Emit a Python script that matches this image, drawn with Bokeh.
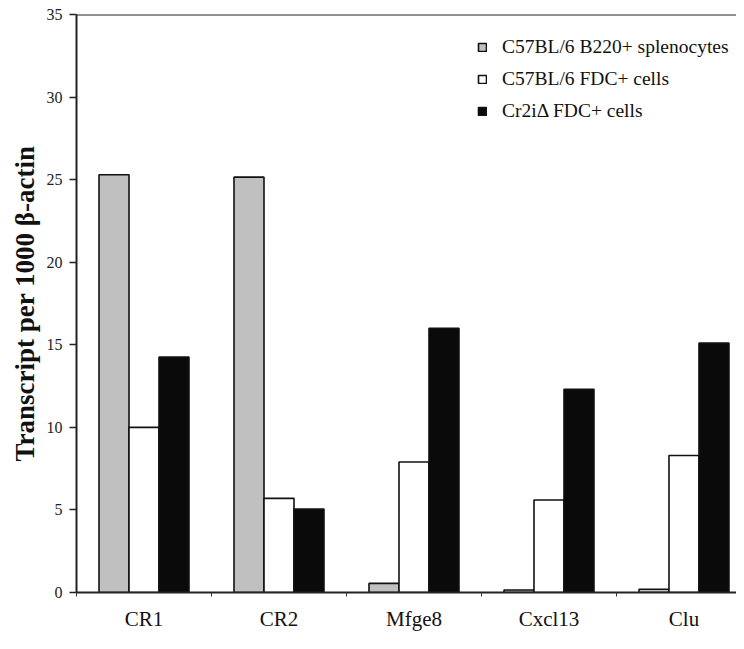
from bokeh.plotting import figure
from bokeh.models import (ColumnDataSource, Range1d, FixedTicker, Span, Legend, LegendItem)
from bokeh.embed import file_html
from bokeh.resources import INLINE
import numpy as np

categories = ["CR1", "CR2", "Mfge8", "Cxcl13", "Clu"]
series_names = ["C57BL/6 B220+ splenocytes", "C57BL/6 FDC+ cells", "Cr2iΔ FDC+ cells"]
b220_splenocytes = [25.3, 25.15, 0.55, 0.15, 0.2]
wt_fdc = [10.0, 5.7, 7.9, 5.6, 8.3]
cr2_fdc = [14.25, 5.05, 16.0, 12.3, 15.1]
y_ticks = [0, 5, 10, 15, 20, 25, 30, 35]

colors = ["#c0c0c0", "#ffffff", "#0a0a0a"]
FONT = "Liberation Serif"
bar_w = 0.2222

n = len(categories)
centers = np.arange(n) + 0.5

p = figure(width=736, height=633, output_backend="svg", toolbar_location=None,
           x_range=Range1d(0, 4.889), y_range=Range1d(0, 35),
           min_border_left=76, min_border_right=0, min_border_top=14, min_border_bottom=37)
p.outline_line_color = None
p.grid.visible = False
p.background_fill_color = "white"
p.border_fill_color = "white"

renderers = []
for k, vals in enumerate([b220_splenocytes, wt_fdc, cr2_fdc]):
    src = ColumnDataSource(dict(x=centers + (k - 1) * bar_w, top=vals))
    r = p.vbar(x="x", top="top", bottom=0, width=bar_w, source=src,
               fill_color=colors[k], line_color="#111111", line_width=1.6)
    renderers.append(r)

# x axis: labels at category centres, ticks at category boundaries
xa = p.xaxis[0]
xa.ticker = FixedTicker(ticks=list(centers), minor_ticks=list(range(n)))
xa.major_label_overrides = {float(c): name for c, name in zip(centers, categories)}
xa.major_tick_in = 0
xa.major_tick_out = 0
xa.minor_tick_in = 0
xa.minor_tick_out = 4
xa.minor_tick_line_color = "#333333"
xa.axis_line_width = 2
xa.axis_line_color = "#222222"
xa.major_label_text_font = FONT
xa.major_label_text_font_size = "21px"
xa.major_label_text_color = "#111111"
xa.major_label_standoff = 10

ya = p.yaxis[0]
ya.ticker = FixedTicker(ticks=y_ticks)
ya.minor_tick_line_color = None
ya.major_tick_in = 0
ya.major_tick_out = 7
ya.major_tick_line_width = 1.5
ya.major_tick_line_color = "#222222"
ya.axis_line_width = 2
ya.axis_line_color = "#222222"
ya.major_label_text_font = FONT
ya.major_label_text_font_size = "16px"
ya.major_label_text_color = "#222222"
ya.major_label_standoff = 7
ya.axis_label = "Transcript per 1000 β-actin"
ya.axis_label_text_font = FONT
ya.axis_label_text_font_size = "27px"
ya.axis_label_text_font_style = "bold"
ya.axis_label_text_color = "#111111"
ya.axis_label_standoff = 4

top_line = Span(location=35, dimension="width", line_color="#222222", line_width=2)
p.add_layout(top_line)

legend = Legend(items=[LegendItem(label=series_names[k], renderers=[renderers[k]]) for k in range(3)],
                location=(401, 470))
legend.border_line_color = None
legend.background_fill_alpha = 0
legend.label_text_font = FONT
legend.label_text_font_size = "19.5px"
legend.label_text_color = "#111111"
legend.glyph_width = 10
legend.glyph_height = 10
legend.label_height = 20
legend.spacing = 10
legend.label_standoff = 15
legend.padding = 10
p.add_layout(legend, "center")

open("out.html", "w").write(file_html(p, INLINE))
